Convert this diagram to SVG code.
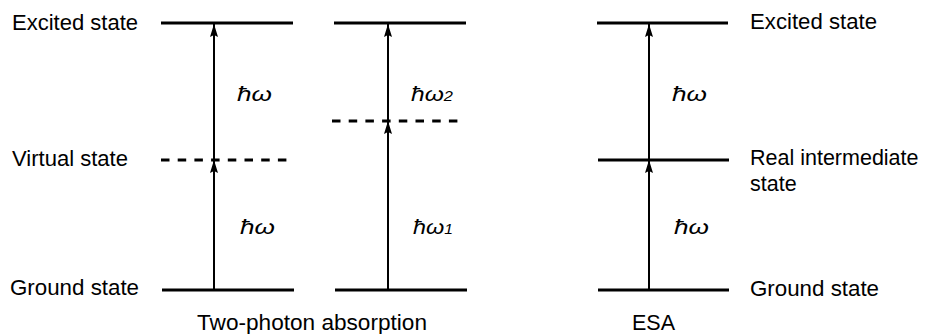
<svg xmlns="http://www.w3.org/2000/svg" width="928" height="334" viewBox="0 0 928 334">
<style>
.lvl{stroke:#000;stroke-width:3;fill:none}
.dash{stroke:#000;stroke-width:3;fill:none;stroke-dasharray:8.5 8.2}
.arr{stroke:#000;stroke-width:2;fill:none;marker-end:url(#ah)}
.lbl{font-family:"Liberation Sans",Arial,sans-serif;font-size:21.5px;fill:#000}
.hw{font-family:"Liberation Sans",Arial,sans-serif;font-size:21px;font-style:italic;fill:#000}
.sub{font-size:14px}
</style>
<defs>
<marker id="ah" markerUnits="userSpaceOnUse" markerWidth="15" markerHeight="10" viewBox="-14 -5 15 10" refX="0" refY="0" orient="auto">
<path d="M0,0 L-13,-4 L-11,0 L-13,4 Z" fill="#000"/>
</marker>
</defs>
<rect width="928" height="334" fill="#fff"/>
<g id="tpa1">
<line class="lvl" x1="161" y1="23" x2="293" y2="23"/>
<line class="dash" x1="161" y1="160" x2="292" y2="160"/>
<line class="lvl" x1="162" y1="290" x2="294" y2="290"/>
<text class="lbl" x="12" y="30" textLength="126" lengthAdjust="spacingAndGlyphs">Excited state</text>
<text class="lbl" x="12" y="166" textLength="116" lengthAdjust="spacingAndGlyphs">Virtual state</text>
<text class="lbl" x="10" y="295" textLength="129" lengthAdjust="spacingAndGlyphs">Ground state</text>
<text class="hw" x="237" y="101" textLength="35" lengthAdjust="spacingAndGlyphs">ħω</text>
<text class="hw" x="240" y="234" textLength="35" lengthAdjust="spacingAndGlyphs">ħω</text>
</g>
<g id="tpa2">
<line class="lvl" x1="334" y1="23" x2="466" y2="23"/>
<line class="dash" x1="332" y1="121" x2="462" y2="121"/>
<line class="lvl" x1="335" y1="290" x2="467" y2="290"/>
<text class="hw" x="411" y="101" textLength="42" lengthAdjust="spacingAndGlyphs">ħω<tspan class="sub">2</tspan></text>
<text class="hw" x="413" y="234" textLength="40" lengthAdjust="spacingAndGlyphs">ħω<tspan class="sub">1</tspan></text>
</g>
<g id="esa">
<line class="lvl" x1="597" y1="23" x2="728" y2="23"/>
<line class="lvl" x1="598" y1="160" x2="729" y2="160"/>
<line class="lvl" x1="598" y1="290" x2="729" y2="290"/>
<text class="lbl" x="750" y="29" textLength="127" lengthAdjust="spacingAndGlyphs">Excited state</text>
<text class="lbl" x="750" y="165">Real intermediate</text>
<text class="lbl" x="750" y="191">state</text>
<text class="lbl" x="750" y="296" textLength="129" lengthAdjust="spacingAndGlyphs">Ground state</text>
<text class="hw" x="672" y="101" textLength="35" lengthAdjust="spacingAndGlyphs">ħω</text>
<text class="hw" x="674" y="234" textLength="35" lengthAdjust="spacingAndGlyphs">ħω</text>
</g>
<g id="captions">
<text class="lbl" x="197" y="330" textLength="230" lengthAdjust="spacingAndGlyphs">Two-photon absorption</text>
<text class="lbl" x="632" y="330">ESA</text>
</g>
<g id="connectors">
<line class="arr" x1="214" y1="290" x2="214" y2="160"/>
<line class="arr" x1="214" y1="160" x2="214" y2="24"/>
<line class="arr" x1="388" y1="290" x2="388" y2="121"/>
<line class="arr" x1="388" y1="121" x2="388" y2="24"/>
<line class="arr" x1="649" y1="290" x2="649" y2="160"/>
<line class="arr" x1="649" y1="160" x2="649" y2="24"/>
</g>
</svg>
